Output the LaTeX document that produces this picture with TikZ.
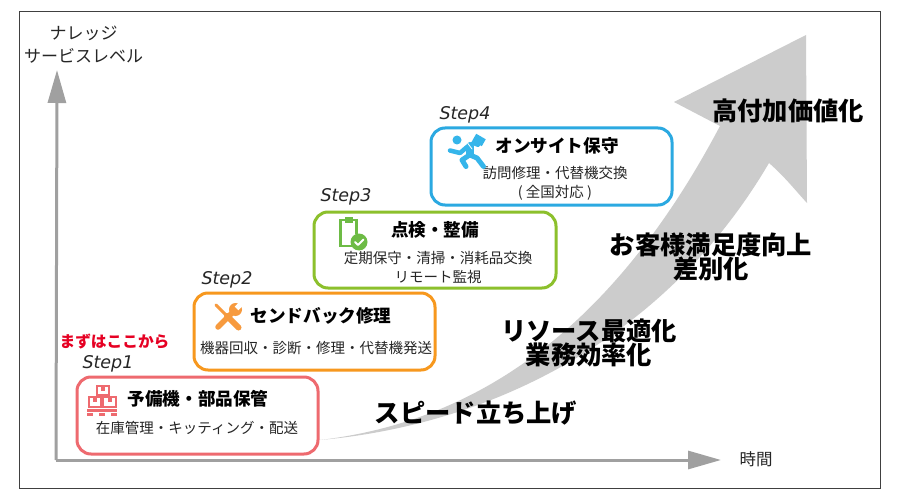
\documentclass[tikz,border=0pt]{standalone}
\usepackage{fontspec}
\setmainfont{Noto Sans CJK JP}
\newfontfamily\stepfont{DejaVu Sans}
\usetikzlibrary{arrows.meta}
\definecolor{cRed}{HTML}{EE6A6F}
\definecolor{cOrange}{HTML}{F7981E}
\definecolor{cGreen}{HTML}{8CC02C}
\definecolor{cBlue}{HTML}{2BA9E1}
\definecolor{cIconO}{HTML}{F79A3E}
\definecolor{cIconG}{HTML}{6DBB45}
\definecolor{cIconB}{HTML}{35B5EA}
\definecolor{cArrow}{HTML}{CCCCCC}
\definecolor{cAxis}{HTML}{A0A0A0}
\definecolor{cStart}{HTML}{E60023}
\tikzset{
  x=1pt,y=-1pt,
  stepbox/.style={draw=#1,line width=3pt,rounded corners=14pt,fill=white},
  txt/.style={inner sep=0pt,align=center,text=black},
  ttl/.style={txt,font=\fontsize{17.6}{20}\selectfont\bfseries},
  sub/.style={txt,font=\fontsize{14.5}{19.5}\selectfont,text=black!85},
  big/.style={txt,font=\fontsize{25.3}{24.5}\selectfont\bfseries},
  axl/.style={txt,font=\fontsize{17}{23}\selectfont,text=black!85},
  stp/.style={txt,font=\stepfont\fontsize{17.5}{20}\selectfont\itshape,text=black!85},
  axisline/.style={draw=cAxis,line width=3pt,-{Triangle[length=33pt,width=18pt,fill=cAxis]}},
}
\begin{document}
\begin{tikzpicture}
\useasboundingbox (0,0) rectangle (900,500);
\fill[white] (0,0) rectangle (900,500);
% frame
\draw[black!75,line width=1pt] (19,12) rectangle (880,488);
% big growth arrow
\fill[cArrow] (320,440)
  .. controls (490,420) and (620,315) .. (720,126)
  -- (674,102) -- (806,35) -- (807,203)
  .. controls (795,190) and (785,177) .. (769,163)
  .. controls (670,332) and (500,424) .. cycle;
% axes
\coordinate (org) at (56,460);
\coordinate (ytop) at (57,70);
\coordinate (xend) at (721,460);
\draw[axisline] (org) -- (ytop);
\draw[axisline] (org) -- (xend);
\node[axl] (ylab) at (83.5,44.5) {ナレッジ\\サービスレベル};
\node[axl,font=\fontsize{16.5}{20}\selectfont] (xlab) at (756,459) {時間};
% big labels
\node[big] (l1) at (476,413) {スピード立ち上げ};
\node[big] (l2) at (589,343) {リソース最適化\\業務効率化};
\node[big] (l3) at (711,257) {お客様満足度向上\\差別化};
\node[big] (l4) at (788,111) {高付加価値化};
% boxes
\node[txt,font=\fontsize{15.7}{18}\selectfont\bfseries,text=cStart] (start) at (114.5,342) {まずはここから};
\draw[stepbox=cRed] (77,377) rectangle (318,454);
\node[stp] (s1) at (108,364) {Step1};
\node[ttl] (t1) at (198,399) {予備機・部品保管};
\node[sub] (d1) at (197,428) {在庫管理・キッティング・配送};
\draw[stepbox=cOrange] (194,293) rectangle (435,370);
\node[stp] (s2) at (227,280) {Step2};
\node[ttl] (t2) at (321,316) {センドバック修理};
\node[sub] (d2) at (316,348) {機器回収・診断・修理・代替機発送};
\draw[stepbox=cGreen] (314,212) rectangle (556,288);
\node[stp] (s3) at (346,197) {Step3};
\node[ttl] (t3) at (435,230) {点検・整備};
\node[sub] (d3) at (438,267.5) {定期保守・清掃・消耗品交換\\リモート監視};
\draw[stepbox=cBlue] (431,128) rectangle (672,205);
\node[stp] (s4) at (465,115) {Step4};
\node[ttl] (t4) at (557,146) {オンサイト保守};
\node[sub] (d4) at (555,183.5) {訪問修理・代替機交換\\( 全国対応 )};
% icon: boxes on pallet
\begin{scope}[cRed,line width=2pt]
  \draw (96.5,386) rectangle (108.5,395);
  \draw (88.5,397) rectangle (101,407);
  \draw (103,397) rectangle (115.5,407);
  \fill (100.5,386) rectangle (104.5,390.5);
  \fill (92.5,397) rectangle (96.5,401.5);
  \fill (107.5,397) rectangle (111.5,401.5);
  \fill (87,408.5) rectangle (117,411.5);
  \fill (87,413) rectangle (93,416);
  \fill (99,413) rectangle (105,416);
  \fill (111,413) rectangle (117,416);
\end{scope}
% icon: wrench and screwdriver
\begin{scope}[cIconO,line cap=round]
  \draw[line width=3pt] (216,305) -- (227,316);
  \draw[line width=6pt] (227,316) -- (238.5,327.5);
  \draw[line width=5.5pt] (218,327) -- (233,312);
  \fill (235.5,309.5) circle (6.5);
  \fill[white] (234.7,306.7) -- (238.3,310.3) -- (244,304.6) -- (240.4,301) -- cycle;
\end{scope}
% icon: clipboard with check
\begin{scope}
  \draw[cIconG,line width=2.6pt] (345,220) -- (340.5,220) -- (340.5,246) -- (352,246);
  \draw[cIconG,line width=2.6pt] (352,220) -- (356.5,220) -- (356.5,234);
  \fill[cIconG] (344.5,217) rectangle (352.5,222.5);
  \fill[cIconG] (359,242) circle (8.5);
  \draw[white,line width=1.8pt,line cap=round,line join=round] (355,242) -- (358,245) -- (363.5,239.5);
\end{scope}
% icon: running man
\begin{scope}[cIconB,line cap=round,line join=round]
  \fill (457,140) circle (4.5);
  \draw[line width=8pt] (470,146) -- (470,154);
  \draw[line width=4.5pt] (467,147) -- (460,153) -- (450,150.5);
  \draw[line width=4pt] (473,143) -- (478,145);
  \draw[line width=5pt] (470,155) -- (477,158) -- (483.5,166.5);
  \draw[line width=5pt] (468,156) -- (462,160) -- (466,166.5);
  \fill[rotate around={-30:(479,140)}] (473.5,136) rectangle (484.5,144);
  \draw[white,line width=0.8pt] (466,141) -- (472,149);
\end{scope}
\end{tikzpicture}
\end{document}
